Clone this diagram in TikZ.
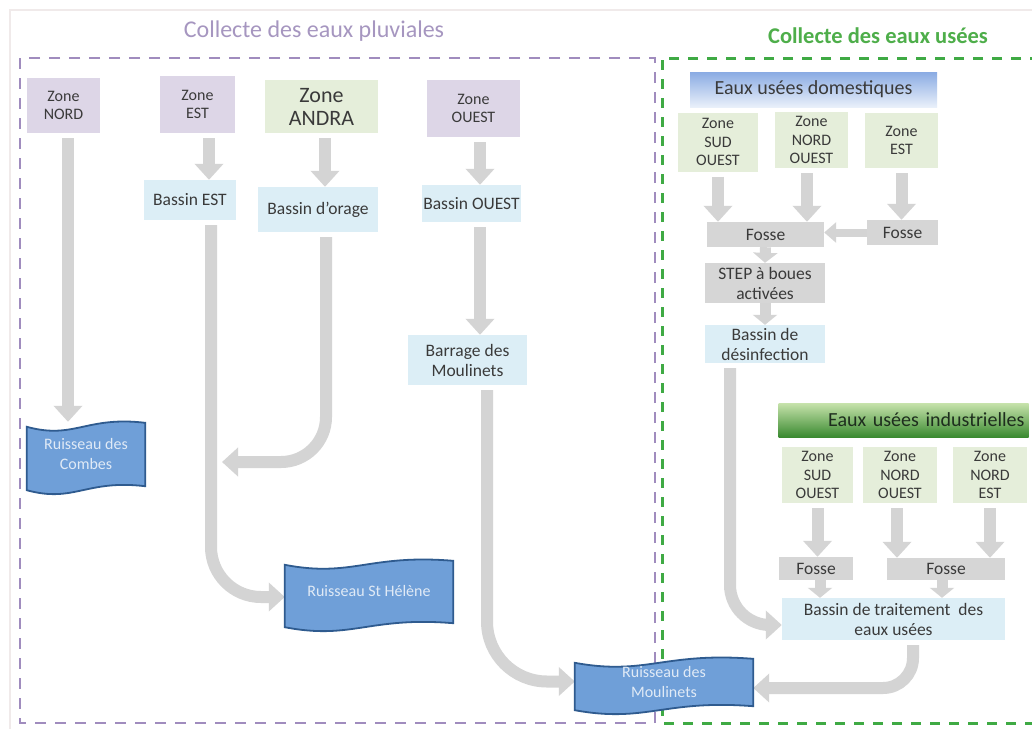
\documentclass[tikz,border=0pt]{standalone}
\usepackage{fontspec}
\setmainfont{Carlito}
\usetikzlibrary{arrows.meta,calc}
\definecolor{zpurple}{HTML}{DDD6E7}
\definecolor{zgreen}{HTML}{E5EEDA}
\definecolor{zblue}{HTML}{DCEEF6}
\definecolor{zgray}{HTML}{D6D6D6}
\definecolor{arr}{HTML}{D4D4D4}
\definecolor{rfill}{HTML}{6F9FD8}
\definecolor{rdraw}{HTML}{2F5B8F}
\definecolor{rtext}{HTML}{E0EAF6}
\definecolor{dpurple}{HTML}{A08CBE}
\definecolor{dgreen}{HTML}{3FAA44}
\definecolor{tpurple}{HTML}{A696C0}
\definecolor{tgreen}{HTML}{4EAE4A}
\definecolor{txt}{HTML}{3A3A3A}
\definecolor{hbtop}{HTML}{8AABE3}
\definecolor{hbbot}{HTML}{E9F0FA}
\definecolor{igtop}{HTML}{C7E3AC}
\definecolor{igbot}{HTML}{3A8A30}
\definecolor{indtxt}{HTML}{1E2E1E}
\definecolor{frame}{HTML}{F0EAEA}
\newcommand\fz{\fontsize{16}{18.5}\selectfont}
\newcommand\fa{\fontsize{22}{23}\selectfont}
\newcommand\fb{\fontsize{17.5}{20}\selectfont}
\newcommand\fh{\fontsize{20}{22}\selectfont}
\newcommand\ft{\fontsize{24}{26}\selectfont}
\newcommand\fg{\fontsize{22.5}{26}\selectfont}
\newcommand\fr{\fontsize{16}{20}\selectfont}
\pgfdeclarelayer{lyA}
\pgfdeclarelayer{lyB}
\pgfsetlayers{lyA,lyB,main}
\newcommand\wavepath[1]{%
 \draw[river] ($(#1.north west)+(0,-5pt)$)
   .. controls ($(#1.north west)!0.4!(#1.north east)+(0,-18pt)$) and ($(#1.north west)!0.5!(#1.north east)+(0,6pt)$) .. ($(#1.north east)+(0,-1pt)$)
   -- ($(#1.south east)+(0,-1pt)$)
   .. controls ($(#1.south west)!0.5!(#1.south east)+(0,6pt)$) and ($(#1.south west)!0.4!(#1.south east)+(0,-18pt)$) .. ($(#1.south west)+(0,-5pt)$)
   -- cycle;}
\begin{document}
\begin{tikzpicture}[x=1pt,y=-1pt,
  box/.style={inner sep=1pt, align=center, text=txt, font=\fz},
  zp/.style={box, fill=zpurple},
  zg/.style={box, fill=zgreen},
  bb/.style={box, fill=zblue, font=\fb},
  fg/.style={box, fill=zgray, font=\fb},
  rv/.style={inner sep=1pt, align=center, text=rtext, font=\fr},
  river/.style={fill=rfill, draw=rdraw, line width=1.8pt},
  bigarr/.style={draw=arr, line width=12pt, -{Triangle[width=28pt,length=16pt]}, shorten <=5pt},
  smallarr/.style={draw=arr, line width=11pt, -{Triangle[width=24pt,length=10pt]}},
  thinarr/.style={draw=arr, line width=8pt, -{Triangle[width=20pt,length=12pt]}},
  pdash/.style={draw=dpurple, line width=2.5pt, dash pattern=on 11pt off 9pt},
  gdash/.style={draw=dgreen, line width=3pt, dash pattern=on 10pt off 9pt},
]
\useasboundingbox (0,0) rectangle (1032,728);
\clip (0,0) rectangle (1032,728);

\begin{pgfonlayer}{lyA}
\fill[white] (0,0) rectangle (1032,728);
\draw[draw=frame, line width=2pt] (10,10) rectangle (1045,745);
\draw[pdash] (20,58) rectangle (655,723);
\draw[gdash] (1040,58) -- (662,58) -- (662,723) -- (1040,723);
\end{pgfonlayer}

\node[font=\ft, text=tpurple] (t1) at (314,31) {Collecte des eaux pluviales};
\node[font=\fg\bfseries, text=tgreen] (t2) at (878,36) {Collecte des eaux usées};

% left part
\node[zp, minimum width=73pt, minimum height=55pt] (zN) at (63.5,105.5) {Zone\\NORD};
\node[zp, minimum width=75pt, minimum height=57pt] (zE) at (197.5,104.5) {Zone\\EST};
\node[zg, font=\fa, minimum width=113pt, minimum height=53pt] (zA) at (321.5,106.5) {Zone\\ANDRA};
\node[zp, minimum width=93pt, minimum height=57pt] (zO) at (473.5,108.5) {Zone\\OUEST};
\node[bb, minimum width=92pt, minimum height=40pt] (bE) at (190,200) {Bassin EST};
\node[bb, minimum width=120pt, minimum height=45pt] (bOr) at (318,209.5) {Bassin d’orage};
\node[bb, minimum width=97pt, minimum height=37pt] (bOu) at (471.5,203.5) {Bassin OUEST};
\node[bb, minimum width=119pt, minimum height=50pt] (barr) at (467.5,360) {Barrage des\\Moulinets};

\node[rv, minimum width=118pt, minimum height=63pt] (comb) at (86,453.5) {Ruisseau des\\Combes};
\node[rv, minimum width=168pt, minimum height=62pt] (stH) at (369,591) {Ruisseau St Hélène};
\node[rv, minimum width=178pt, minimum height=47pt] (moul) at (664,681.5) {Ruisseau des\\Moulinets};

% right part
\node[box, font=\fh, top color=hbtop, bottom color=hbbot, minimum width=247pt, minimum height=35pt] (hDom) at (813.5,89.5) {Eaux usées domestiques};
\node[zg, minimum width=80pt, minimum height=59pt] (dSO) at (718,142) {Zone\\SUD\\OUEST};
\node[zg, minimum width=73pt, minimum height=56pt] (dNO) at (811.5,140) {Zone\\NORD\\OUEST};
\node[zg, minimum width=73pt, minimum height=55pt] (dE) at (901.5,140.5) {Zone\\EST};
\node[fg, minimum width=117pt, minimum height=25pt] (f1) at (765.5,234.5) {Fosse};
\node[fg, minimum width=71pt, minimum height=25pt] (f2) at (902.5,232.5) {Fosse};
\node[fg, minimum width=120pt, minimum height=40pt] (step) at (765,283) {STEP à boues\\activées};
\node[bb, minimum width=120pt, minimum height=38pt] (des) at (765,344) {Bassin de\\désinfection};

\node[box, font=\fh, text=indtxt, top color=igtop, bottom color=igbot, minimum width=250pt, minimum height=34pt, text width=242pt, align=right] (hInd) at (903.5,420) {Eaux usées industrielles};
\node[zg, minimum width=71pt, minimum height=56pt] (iSO) at (817.5,475) {Zone\\SUD\\OUEST};
\node[zg, minimum width=74pt, minimum height=56pt] (iNO) at (900,475) {Zone\\NORD\\OUEST};
\node[zg, minimum width=74pt, minimum height=56pt] (iNE) at (990,475) {Zone\\NORD\\EST};
\node[fg, minimum width=74pt, minimum height=23pt] (f3) at (816,568.5) {Fosse};
\node[fg, minimum width=118pt, minimum height=22pt] (f4) at (946,569) {Fosse};
\node[bb, minimum width=223pt, minimum height=42pt] (trait) at (893.5,619) {Bassin de traitement \ des\\eaux usées};

\coordinate (merge) at (222,462);

\begin{pgfonlayer}{lyB}
\wavepath{comb}
\wavepath{stH}
\wavepath{moul}
\end{pgfonlayer}

\begin{pgfonlayer}{lyA}
\coordinate (a1) at ([xshift=4.5pt]zN.south);
\draw[bigarr] (a1) -- (a1 |- comb.north);
\coordinate (a2) at ([xshift=11.5pt]zE.south);
\draw[bigarr] (a2) -- (a2 |- bE.north);
\coordinate (a3) at ([xshift=3.5pt]zA.south);
\draw[bigarr] (a3) -- (a3 |- bOr.north);
\coordinate (a4) at ([xshift=6.5pt]zO.south);
\draw[bigarr] (a4) -- (a4 |- bOu.north);
\coordinate (a5) at ([xshift=21pt]bE.south);
\coordinate (e5) at ([yshift=-6pt]stH.west);
\draw[bigarr, rounded corners=50pt] (a5) |- (e5);
\coordinate (a6) at ([xshift=8pt]bOr.south);
\draw[bigarr, rounded corners=45pt] (a6) |- (merge);
\coordinate (a7) at ([xshift=8.5pt]bOu.south);
\draw[bigarr] (a7) -- (a7 |- barr.north);
\coordinate (a8) at ([xshift=19.5pt]barr.south);
\draw[bigarr, rounded corners=60pt] (a8) |- (moul.west);

\draw[bigarr] (dSO.south) -- (dSO.south |- f1.north);
\coordinate (a9) at ([xshift=-4.5pt]dNO.south);
\draw[bigarr] (a9) -- (a9 |- f1.north);
\draw[bigarr] (dE.south) -- (dE.south |- f2.north);
\draw[thinarr] (f2.west) -- (f2.west -| f1.east);
\draw[smallarr] (f1.south) -- (step.north);
\draw[smallarr] (step.south) -- (des.north);
\coordinate (a10) at ([xshift=-35pt]des.south);
\coordinate (e10) at ([yshift=-6pt]trait.west);
\draw[bigarr, rounded corners=40pt] (a10) |- (e10);

\draw[bigarr] (iSO.south) -- (iSO.south |- f3.north);
\coordinate (a11) at ([xshift=-3pt]iNO.south);
\draw[bigarr] (a11) -- (a11 |- f4.north);
\draw[bigarr] (iNE.south) -- (iNE.south |- f4.north);
\coordinate (a12) at ([xshift=4pt]f3.south);
\draw[smallarr] (a12) -- (a12 |- trait.north);
\coordinate (a13) at ([xshift=-4pt]f4.south);
\draw[smallarr] (a13) -- (a13 |- trait.north);
\coordinate (a14) at ([xshift=19.5pt]trait.south);
\coordinate (e14) at ([yshift=-6.5pt]moul.east);
\draw[bigarr, rounded corners=30pt] (a14) |- (e14);
\end{pgfonlayer}
\end{tikzpicture}
\end{document}
